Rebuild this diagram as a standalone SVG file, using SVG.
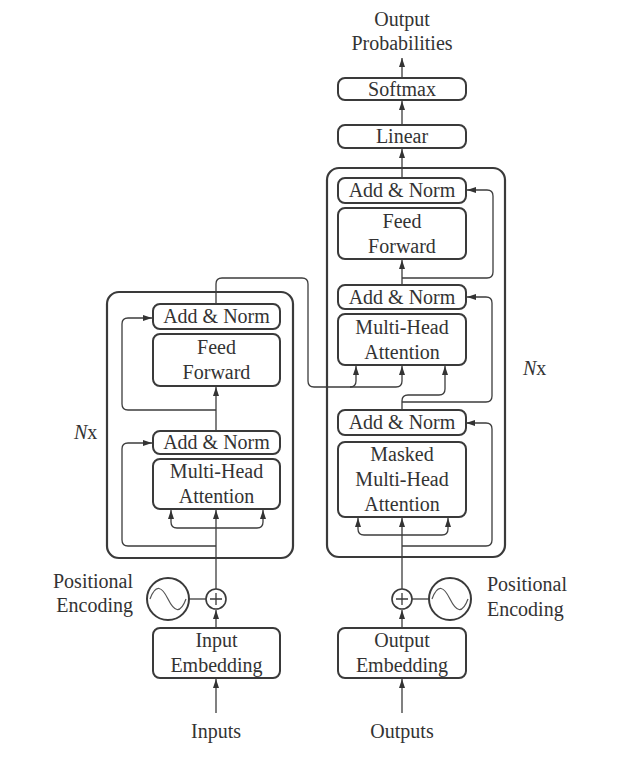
<svg xmlns="http://www.w3.org/2000/svg" width="638" height="761" viewBox="0 0 638 761">
<style>
.box{fill:#fff;stroke:#3a3a3a;stroke-width:2}
.outer{fill:none;stroke:#3a3a3a;stroke-width:2.2}
.c{fill:none;stroke:#3c3c3c;stroke-width:1.3}
.ca{fill:none;stroke:#3c3c3c;stroke-width:1.3;marker-end:url(#ah)}
text{font-family:"Liberation Serif","Times New Roman",serif;font-size:20px;fill:#333}
.m{text-anchor:middle}
</style>
<defs>
<marker id="ah" viewBox="0 0 9 6" refX="9" refY="3" markerWidth="9" markerHeight="6" orient="auto" markerUnits="userSpaceOnUse">
<path d="M0,0 L9,3 L0,6 z" fill="#333"/>
</marker>
</defs>
<rect width="638" height="761" fill="#fff"/>

<g id="encoder-stack">
<rect class="outer" x="107" y="292" width="186" height="266" rx="12"/>
</g>
<g id="decoder-stack">
<rect class="outer" x="327" y="168" width="178" height="389" rx="12"/>
</g>

<g id="connectors">
<!-- encoder -->
<path class="ca" d="M216,713 L216,679"/>
<path class="ca" d="M216,628 L216,610"/>
<path class="c" d="M189,599 L206,599"/>
<path class="ca" d="M216,589 L216,510"/>
<path class="ca" d="M216,528 L177,528 Q171,528 171,522 L171,510"/>
<path class="ca" d="M216,528 L257,528 Q263,528 263,522 L263,510"/>
<path class="ca" d="M216,546 L128,546 Q122,546 122,540 L122,449 Q122,443 128,443 L152,443"/>
<path class="ca" d="M216,431 L216,387"/>
<path class="ca" d="M216,410 L128,410 Q122,410 122,404 L122,324 Q122,318 128,318 L152,318"/>
<!-- encoder output to decoder -->
<path class="ca" d="M216,304 L216,284 Q216,278 222,278 L302,278 Q308,278 308,284 L308,381 Q308,387 314,387 L396,387 Q402,387 402,381 L402,366"/>
<path class="ca" d="M350,387 Q356,387 356,381 L356,366"/>
<!-- decoder -->
<path class="ca" d="M402,713 L402,679"/>
<path class="ca" d="M402,628 L402,610"/>
<path class="c" d="M412,599 L429,599"/>
<path class="ca" d="M402,589 L402,518"/>
<path class="ca" d="M402,535 L364,535 Q358,535 358,529 L358,518"/>
<path class="ca" d="M402,535 L442,535 Q448,535 448,529 L448,518"/>
<path class="ca" d="M402,546 L486,546 Q492,546 492,540 L492,429 Q492,423 486,423 L466,423"/>
<path class="ca" d="M402,410 L402,401 Q402,395 408,395 L439,395 Q445,395 445,389 L445,366"/>
<path class="ca" d="M402,402 L486,402 Q492,402 492,396 L492,303 Q492,297 486,297 L467,297"/>
<path class="ca" d="M402,285 L402,260"/>
<path class="ca" d="M402,278 L487,278 Q493,278 493,272 L493,196 Q493,190 487,190 L467,190"/>
<path class="ca" d="M402,178 L402,149"/>
<path class="ca" d="M402,125 L402,101"/>
<path class="ca" d="M402,78 L402,58"/>
</g>

<g id="enc-add-norm-2"><rect class="box" x="153" y="304" width="127" height="25" rx="7"/><text class="m" x="216.5" y="323">Add &amp; Norm</text></g>
<g id="enc-feed-forward"><rect class="box" x="153" y="334" width="127" height="52" rx="7"/><text class="m" x="216.5" y="354">Feed</text><text class="m" x="216.5" y="379">Forward</text></g>
<g id="enc-add-norm-1"><rect class="box" x="153" y="431" width="127" height="23" rx="7"/><text class="m" x="216.5" y="449">Add &amp; Norm</text></g>
<g id="enc-mha"><rect class="box" x="153" y="459" width="127" height="50" rx="7"/><text class="m" x="216.5" y="478">Multi-Head</text><text class="m" x="216.5" y="503">Attention</text></g>
<g id="enc-plus"><circle cx="216" cy="599" r="10" fill="#fff" stroke="#3a3a3a" stroke-width="1.6"/><path d="M210,599 H222 M216,593 V605" stroke="#3a3a3a" stroke-width="1.3"/></g>
<g id="enc-pos-enc"><circle cx="168" cy="599" r="21" fill="#fff" stroke="#3a3a3a" stroke-width="2"/><path d="M150,599 C156,583 162,587 168,599 C174,611 180,615 186,599" fill="none" stroke="#555" stroke-width="1.2"/></g>
<g id="enc-input-embedding"><rect class="box" x="153" y="628" width="127" height="50" rx="7"/><text class="m" x="216.5" y="647">Input</text><text class="m" x="216.5" y="672">Embedding</text></g>

<g id="dec-add-norm-3"><rect class="box" x="338" y="178" width="128" height="25" rx="7"/><text class="m" x="402" y="197">Add &amp; Norm</text></g>
<g id="dec-feed-forward"><rect class="box" x="338" y="208" width="128" height="51" rx="7"/><text class="m" x="402" y="228">Feed</text><text class="m" x="402" y="253">Forward</text></g>
<g id="dec-add-norm-2"><rect class="box" x="338" y="285" width="128" height="24" rx="7"/><text class="m" x="402" y="303.5">Add &amp; Norm</text></g>
<g id="dec-mha"><rect class="box" x="338" y="314" width="128" height="51" rx="7"/><text class="m" x="402" y="333.5">Multi-Head</text><text class="m" x="402" y="358.5">Attention</text></g>
<g id="dec-add-norm-1"><rect class="box" x="338" y="410" width="128" height="25" rx="7"/><text class="m" x="402" y="429">Add &amp; Norm</text></g>
<g id="dec-masked-mha"><rect class="box" x="338" y="442" width="128" height="75" rx="7"/><text class="m" x="402" y="461">Masked</text><text class="m" x="402" y="486">Multi-Head</text><text class="m" x="402" y="511">Attention</text></g>
<g id="dec-plus"><circle cx="402" cy="599" r="10" fill="#fff" stroke="#3a3a3a" stroke-width="1.6"/><path d="M396,599 H408 M402,593 V605" stroke="#3a3a3a" stroke-width="1.3"/></g>
<g id="dec-pos-enc"><circle cx="450" cy="599" r="21" fill="#fff" stroke="#3a3a3a" stroke-width="2"/><path d="M432,599 C438,583 444,587 450,599 C456,611 462,615 468,599" fill="none" stroke="#555" stroke-width="1.2"/></g>
<g id="dec-output-embedding"><rect class="box" x="338" y="628" width="128" height="50" rx="7"/><text class="m" x="402" y="647">Output</text><text class="m" x="402" y="672">Embedding</text></g>
<g id="linear"><rect class="box" x="338" y="125" width="128" height="23" rx="7"/><text class="m" x="402" y="143">Linear</text></g>
<g id="softmax"><rect class="box" x="338" y="78" width="128" height="22" rx="7"/><text class="m" x="402" y="95.5">Softmax</text></g>

<g id="labels">
<text class="m" x="402" y="26">Output</text>
<text class="m" x="402" y="50">Probabilities</text>
<text x="133" y="588" text-anchor="end">Positional</text>
<text x="133" y="612" text-anchor="end">Encoding</text>
<text x="487" y="591">Positional</text>
<text x="487" y="616">Encoding</text>
<text x="74" y="439"><tspan font-style="italic">N</tspan>x</text>
<text x="523" y="375"><tspan font-style="italic">N</tspan>x</text>
<text class="m" x="216" y="738">Inputs</text>
<text class="m" x="402" y="738">Outputs</text>
</g>
</svg>
